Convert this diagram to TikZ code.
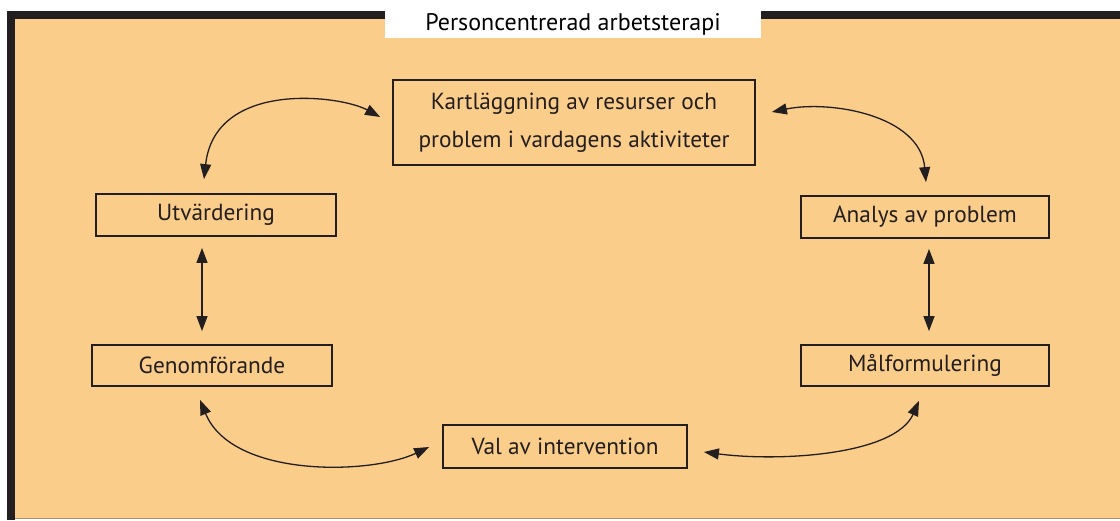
\documentclass[tikz,border=0pt]{standalone}
\usepackage{fontspec}
\setmainfont{PT Sans}
\usetikzlibrary{arrows.meta}

\definecolor{ink}{RGB}{35,31,32}
\definecolor{sand}{RGB}{250,205,138}
\definecolor{rim}{RGB}{170,150,100}

\begin{document}
\begin{tikzpicture}[x=1pt, y=-1pt,
    box/.style={draw=ink, line width=1.8pt, inner sep=0pt, text=ink,
        font=\fontsize{23.3}{38}\selectfont},
    link/.style={{Triangle[length=15pt,width=11pt]}-{Triangle[length=15pt,width=11pt]},
        draw=ink, fill=none, line width=1.3pt}]
    \useasboundingbox (0,0) rectangle (1120,520);

    % Frame
    \fill[white] (0,0) rectangle (1120,520);
    \fill[sand] (15,19) rectangle (1120,518);
    \fill[ink] (7,11) rectangle (15,520);
    \fill[ink] (7,11) rectangle (1120,19);
    \draw[rim, line width=1pt] (15,518.5) -- (1120,518.5);
    \fill[white] (385,0) rectangle (761,38);
    \node[text=black, font=\fontsize{24}{28}\selectfont] (title) at (573,24) {Personcentrerad arbetsterapi};

    % Nodes
    \node[box, minimum width=362pt, minimum height=85pt, align=center] (kart) at (574,122.5)
        {Kartläggning av resurser och\\problem i vardagens aktiviteter};
    \node[box, minimum width=240pt, minimum height=42pt] (utv) at (216,215) {Utvärdering};
    \node[box, minimum width=248pt, minimum height=42pt] (analys) at (925,217) {Analys av problem};
    \node[box, minimum width=240pt, minimum height=41pt] (genom) at (212,365.5) {Genomförande};
    \node[box, minimum width=248pt, minimum height=41pt] (mal) at (925,365.5) {Målformulering};
    \node[box, minimum width=244pt, minimum height=43pt] (val) at (565,446.5) {Val av intervention};

    % Arrows
    \draw[link] ([xshift=-12pt, yshift=5.5pt]kart.west) .. controls (340,95) and (215,80) .. ([xshift=-12pt, yshift=14pt]utv.north);
    \draw[link] ([xshift=16pt, yshift=10.5pt]kart.east) .. controls (830,100) and (920,115) .. ([xshift=1pt, yshift=13pt]analys.north);
    \draw[link] ([xshift=-14pt, yshift=-11pt]utv.south) -- ([xshift=-10pt, yshift=13pt]genom.north);
    \draw[link] ([xshift=4pt, yshift=-10pt]analys.south) -- ([xshift=4pt, yshift=13pt]mal.north);
    \draw[link] ([xshift=-12pt, yshift=-13pt]genom.south) .. controls (232,478) and (370,475) .. ([xshift=-13pt, yshift=-0.5pt]val.west);
    \draw[link] ([xshift=-6pt, yshift=-14pt]mal.south) .. controls (895,455) and (780,462) .. ([xshift=16pt, yshift=-5.5pt]val.east);
\end{tikzpicture}
\end{document}
